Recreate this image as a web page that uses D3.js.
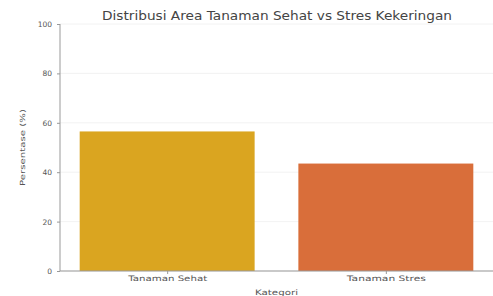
<!DOCTYPE html>
<html><head><meta charset="utf-8">
<script src="https://cdn.jsdelivr.net/npm/d3@7"></script>
<style>body{margin:0;background:#fff}svg{display:block}text{font-family:"DejaVu Sans",sans-serif}</style>
</head><body><svg id="c" width="493" height="296"></svg>
<script>
const categories = ["Tanaman Sehat", "Tanaman Stres"];
const values = [56.5, 43.5];
const colors = ["#DAA520", "#D96E3A"];
const yTicks = [0, 20, 40, 60, 80, 100];

const svg = d3.select("#c");
const m = {l: 60, r: 0, t: 24, b: 25};
const W = 493, H = 296;
const x = d3.scaleLinear().domain([-0.49, 1.49]).range([m.l, W - m.r]);
const y = d3.scaleLinear().domain([0, 100]).range([H - m.b, m.t]);

// grid
svg.append("g").selectAll("line").data(yTicks).join("line")
  .attr("x1", m.l).attr("x2", W - m.r)
  .attr("y1", d => y(d)).attr("y2", d => y(d))
  .attr("stroke", "#efefef").attr("stroke-width", 0.8);

// bars
const bw = x(0.4) - x(0);
svg.append("g").selectAll("rect").data(values).join("rect")
  .attr("x", (d, i) => x(i - 0.4)).attr("width", bw * 2)
  .attr("y", d => y(d)).attr("height", d => y(0) - y(d))
  .attr("fill", (d, i) => colors[i]);

// y axis
const ya = svg.append("g").attr("transform", `translate(${m.l},0)`)
  .call(d3.axisLeft(y).tickValues(yTicks).tickSize(3).tickPadding(5));
ya.select(".domain").attr("stroke", "#999").attr("stroke-width", 1).attr("d", `M0,${y(0)}V${y(100)}`);
ya.selectAll(".tick line").attr("stroke", "#999");
ya.selectAll("text").attr("font-size", 7.5).attr("fill", "#555");

// x axis
const xa = svg.append("g").attr("transform", `translate(0,${y(0)})`)
  .call(d3.axisBottom(x).tickValues([0, 1]).tickFormat(i => categories[i]).tickSize(3).tickPadding(2));
xa.select(".domain").attr("stroke", "#999").attr("d", `M${m.l},0H${W}`);
xa.selectAll(".tick line").attr("stroke", "#999");
xa.selectAll("text").attr("font-size", 7.5).attr("fill", "#555")
  .attr("textLength", 79).attr("lengthAdjust", "spacingAndGlyphs");

svg.append("text").attr("x", (m.l + W) / 2).attr("y", 295).attr("text-anchor", "middle")
  .attr("font-size", 7.5).attr("fill", "#555").attr("textLength", 43).attr("lengthAdjust", "spacingAndGlyphs").text("Kategori");
svg.append("text").attr("transform", `translate(25,${(y(0) + y(100)) / 2}) rotate(-90)`)
  .attr("text-anchor", "middle").attr("font-size", 7).attr("fill", "#555")
  .attr("textLength", 77).attr("lengthAdjust", "spacingAndGlyphs").text("Persentase (%)");
svg.append("text").attr("x", 277).attr("y", 20).attr("text-anchor", "middle")
  .attr("font-size", 12).attr("fill", "#444").attr("textLength", 350).attr("lengthAdjust", "spacingAndGlyphs")
  .text("Distribusi Area Tanaman Sehat vs Stres Kekeringan");
</script></body></html>
